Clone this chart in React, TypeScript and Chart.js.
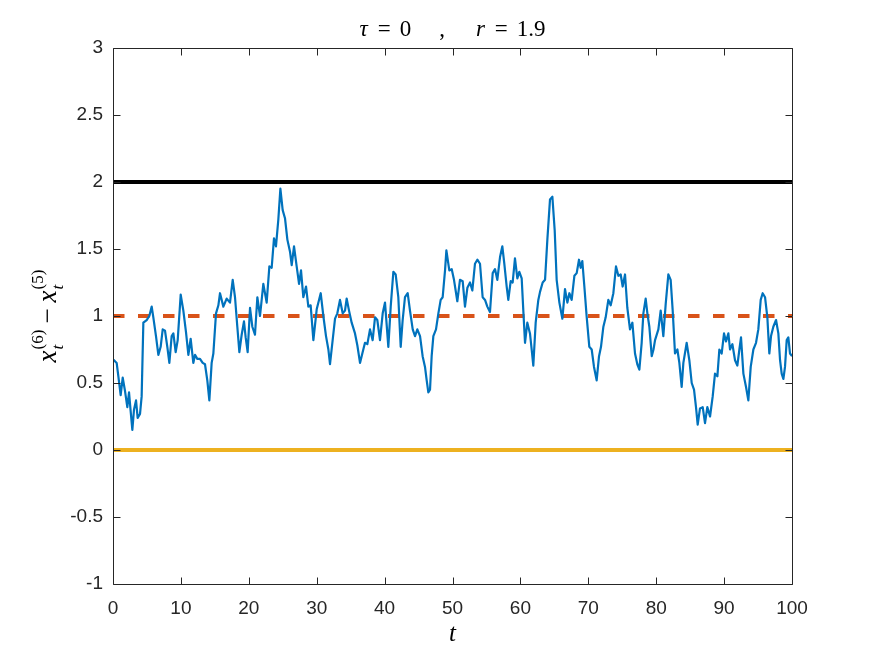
import React, { useEffect, useRef } from 'react';
import { Chart, registerables } from 'chart.js';

Chart.register(...registerables);

// ---- data ----
const timeSteps = [
  0, 0.15, 0.54, 0.79, 1.13, 1.43, 1.77, 2.11, 2.36, 2.6, 2.85, 3.09, 3.39, 3.63, 3.98, 4.22, 4.47, 4.96,
  5.35, 5.7, 5.94, 6.33, 6.68, 7.02, 7.32, 7.66, 8.0, 8.3, 8.64, 8.89, 9.23, 9.53, 9.97, 10.36, 10.75,
  11.1, 11.44, 11.83, 12.08, 12.42, 12.81, 13.21, 13.55, 13.89, 14.19, 14.53, 14.78, 15.17, 15.52, 15.76,
  16.25, 16.74, 17.23, 17.63, 17.97, 18.31, 18.61, 18.95, 19.29, 19.54, 19.83, 20.18, 20.52, 20.91, 21.26,
  21.65, 22.14, 22.63, 23.03, 23.37, 23.71, 24.0, 24.35, 24.65, 24.99, 25.33, 25.68, 26.07, 26.32, 26.66,
  27.05, 27.4, 27.69, 28.03, 28.43, 28.77, 29.11, 29.51, 30.0, 30.59, 30.98, 31.37, 31.72, 31.96, 32.35,
  32.7, 33.04, 33.43, 33.83, 34.17, 34.41, 34.76, 35.15, 35.64, 35.99, 36.38, 36.72, 37.11, 37.46, 37.85,
  38.24, 38.59, 38.93, 39.32, 39.72, 40.06, 40.55, 40.9, 41.29, 41.63, 42.02, 42.37, 42.66, 43.0, 43.4,
  43.74, 44.14, 44.48, 44.82, 45.22, 45.6, 45.95, 46.2, 46.44, 46.69, 46.93, 47.18, 47.57, 47.92, 48.26,
  48.55, 48.9, 49.1, 49.53, 49.88, 50.22, 50.71, 51.1, 51.5, 51.84, 52.19, 52.58, 52.92, 53.31, 53.66,
  54.05, 54.44, 54.79, 55.13, 55.52, 55.92, 56.26, 56.6, 57.0, 57.34, 57.63, 57.98, 58.22, 58.57, 58.86,
  59.2, 59.55, 59.84, 60.19, 60.43, 60.68, 61.02, 61.41, 61.66, 61.9, 62.25, 62.64, 62.89, 63.28, 63.63,
  63.97, 64.36, 64.71, 65.05, 65.34, 65.74, 66.18, 66.57, 66.92, 67.21, 67.55, 67.95, 68.29, 68.63, 68.88,
  69.12, 69.42, 69.76, 70.15, 70.5, 70.84, 71.23, 71.58, 71.87, 72.22, 72.56, 72.95, 73.3, 73.69, 74.08,
  74.43, 74.77, 75.06, 75.41, 75.75, 76.14, 76.49, 76.88, 77.22, 77.52, 77.86, 78.11, 78.45, 78.7, 78.99,
  79.34, 79.6, 79.83, 80.32, 80.66, 81.05, 81.4, 81.79, 82.13, 82.43, 82.77, 83.12, 83.41, 83.75, 84.0,
  84.49, 84.88, 85.23, 85.57, 85.86, 86.11, 86.45, 86.85, 87.19, 87.53, 87.93, 88.32, 88.66, 89.01, 89.3,
  89.64, 89.99, 90.28, 90.63, 90.87, 91.22, 91.61, 91.95, 92.25, 92.49, 92.84, 93.23, 93.57, 93.92, 94.31,
  94.7, 95.04, 95.39, 95.68, 96.03, 96.37, 96.66, 96.91, 97.25, 97.65, 97.99, 98.24, 98.48, 98.73, 98.97,
  99.22, 99.46, 99.71, 100,
];

const gapValues = [
  0.66, 0.67, 0.65, 0.55, 0.41, 0.54, 0.44, 0.32, 0.43, 0.29, 0.15, 0.3, 0.37, 0.24, 0.27, 0.4, 0.95, 0.97,
  1.0, 1.07, 0.99, 0.85, 0.71, 0.77, 0.9, 0.89, 0.77, 0.65, 0.85, 0.87, 0.73, 0.82, 1.16, 1.04, 0.88,
  0.71, 0.83, 0.65, 0.71, 0.68, 0.68, 0.65, 0.64, 0.52, 0.37, 0.65, 0.72, 1.02, 1.08, 1.17,
  1.07, 1.13, 1.1, 1.27, 1.14, 0.92, 0.73, 0.86, 0.96, 0.84, 0.73, 1.06, 0.92, 0.86, 1.14,
  1.0, 1.24, 1.1, 1.37, 1.36, 1.58, 1.52, 1.72, 1.95, 1.79, 1.73, 1.57, 1.48, 1.38, 1.52,
  1.37, 1.24, 1.34, 1.14, 1.22, 1.07, 1.08, 0.82, 1.05, 1.17, 1.0, 0.85, 0.75, 0.64, 0.82,
  0.98, 1.02, 1.12, 1.02, 1.04, 1.13, 1.04, 0.95, 0.87, 0.78, 0.65, 0.72, 0.8, 0.79, 0.9,
  0.82, 0.99, 0.97, 0.82, 1.02, 1.1, 0.77, 1.07, 1.33, 1.31, 1.14, 0.77, 0.97, 1.14, 1.17,
  1.04, 0.9, 0.85, 0.9, 0.85, 0.7, 0.62, 0.52, 0.43, 0.45, 0.7, 0.85, 0.9, 1.02, 1.12,
  1.14, 1.34, 1.49, 1.34, 1.35, 1.27, 1.11, 1.27, 1.26, 1.07, 1.21, 1.25, 1.19, 1.39, 1.42,
  1.39, 1.14, 1.12, 1.07, 1.03, 1.32, 1.35, 1.27, 1.44, 1.52, 1.39, 1.22, 1.12, 1.26, 1.25,
  1.43, 1.28, 1.33, 1.28, 1.04, 0.8, 0.95, 0.87, 0.75, 0.63, 0.95, 1.12, 1.18, 1.25, 1.27,
  1.57, 1.87, 1.89, 1.64, 1.27, 1.1, 0.98, 1.2, 1.1, 1.17, 1.12, 1.3, 1.32, 1.42, 1.36,
  1.41, 1.22, 0.995, 0.77, 0.75, 0.62, 0.52, 0.7, 0.77, 0.92, 0.99, 1.12, 1.08, 1.17, 1.37,
  1.3, 1.31, 1.22, 1.31, 1.06, 0.9, 0.95, 0.72, 0.64, 0.6, 0.8, 1.02, 1.13, 1.02, 0.92,
  0.7, 0.75, 0.82, 0.9, 1.04, 0.85, 1.09, 1.31, 1.27, 1.04, 0.72, 0.75, 0.65, 0.47, 0.65,
  0.8, 0.67, 0.5, 0.45, 0.32, 0.19, 0.31, 0.32, 0.2, 0.32, 0.25, 0.4, 0.57, 0.55, 0.75,
  0.72, 0.87, 0.81, 0.87, 0.75, 0.79, 0.67, 0.63, 0.75, 0.84, 0.57, 0.47, 0.37, 0.62, 0.75,
  0.8, 0.9, 1.12, 1.17, 1.14, 0.99, 0.72, 0.85, 0.92, 0.97, 0.87, 0.67, 0.57, 0.53, 0.62,
  0.82, 0.84, 0.72, 0.7,
];

const upperLevel = 2;
const middleLevel = 1;
const lowerLevel = 0;

const xTickValues = [0, 10, 20, 30, 40, 50, 60, 70, 80, 90, 100];
const yTickValues = [-1, -0.5, 0, 0.5, 1, 1.5, 2, 2.5, 3];

// ---- layout / style ----
const W = 875;
const H = 657;
const AREA_LEFT = 113;
const AREA_RIGHT = 792;
const AREA_TOP = 48;
const AREA_BOTTOM = 584;
const AXIS_COLOR = '#262626';
const TICK_FONT = 'Liberation Sans';
const MATH_FONT = '"Liberation Serif", "DejaVu Serif", serif';

type Piece = { text?: string; italic?: boolean; size?: number; gap?: number };

function runWidth(ctx: CanvasRenderingContext2D, pieces: Piece[], baseSize: number) {
  let w = 0;
  for (const p of pieces) {
    if (p.gap !== undefined) { w += p.gap; continue; }
    ctx.font = `${p.italic ? 'italic ' : ''}${p.size ?? baseSize}px ${MATH_FONT}`;
    w += ctx.measureText(p.text || '').width;
  }
  return w;
}

function drawRun(ctx: CanvasRenderingContext2D, pieces: Piece[], baseSize: number, cx: number, baseline: number) {
  const w = runWidth(ctx, pieces, baseSize);
  let x = cx - w / 2;
  ctx.textBaseline = 'alphabetic';
  ctx.textAlign = 'left';
  for (const p of pieces) {
    if (p.gap !== undefined) { x += p.gap; continue; }
    ctx.font = `${p.italic ? 'italic ' : ''}${p.size ?? baseSize}px ${MATH_FONT}`;
    ctx.fillText(p.text || '', x, baseline);
    x += ctx.measureText(p.text || '').width;
  }
}

// draws x_t^{(k)} style term starting at x; returns advance
function drawScripted(ctx: CanvasRenderingContext2D, x: number, main: string, sup: string, sub: string, mainSize: number, scriptSize: number) {
  ctx.font = `italic ${mainSize}px ${MATH_FONT}`;
  ctx.fillText(main, x, 0);
  const mw = ctx.measureText(main).width;
  ctx.font = `${scriptSize}px ${MATH_FONT}`;
  const supW = ctx.measureText(sup).width;
  ctx.fillText(sup, x + mw + 1, -mainSize * 0.48);
  ctx.font = `italic ${scriptSize}px ${MATH_FONT}`;
  const subW = ctx.measureText(sub).width;
  ctx.fillText(sub, x + mw + 1, mainSize * 0.25);
  return mw + 1 + Math.max(supW, subW);
}

const framePlugin = {
  id: 'matlabFrame',
  afterDatasetsDraw(chart: any) {
    const { ctx, chartArea, scales } = chart;
    const l = Math.round(chartArea.left) + 0.5;
    const r = Math.round(chartArea.right) + 0.5;
    const t = Math.round(chartArea.top) + 0.5;
    const b = Math.round(chartArea.bottom) + 0.5;
    ctx.save();
    ctx.strokeStyle = AXIS_COLOR;
    ctx.lineWidth = 1;
    ctx.beginPath();
    ctx.rect(l, t, r - l, b - t);
    const tl = 7;
    for (const v of xTickValues) {
      const px = Math.round(scales.x.getPixelForValue(v)) + 0.5;
      ctx.moveTo(px, b); ctx.lineTo(px, b - tl);
      ctx.moveTo(px, t); ctx.lineTo(px, t + tl);
    }
    for (const v of yTickValues) {
      const py = Math.round(scales.y.getPixelForValue(v)) + 0.5;
      ctx.moveTo(l, py); ctx.lineTo(l + tl, py);
      ctx.moveTo(r, py); ctx.lineTo(r - tl, py);
    }
    ctx.stroke();
    ctx.restore();
  },
  afterDraw(chart: any) {
    const { ctx, chartArea } = chart;
    const cx = (chartArea.left + chartArea.right) / 2;
    const cy = (chartArea.top + chartArea.bottom) / 2;
    ctx.save();
    ctx.fillStyle = '#000';
    // title
    drawRun(ctx, [
      { text: 'τ', italic: true }, { gap: 10 }, { text: '=' }, { gap: 9 }, { text: '0' },
      { gap: 28 }, { text: ',' }, { gap: 31 },
      { text: 'r', italic: true }, { gap: 10 }, { text: '=' }, { gap: 9 }, { text: '1.9' },
    ], 23, cx, 36);
    // x label
    drawRun(ctx, [{ text: 't', italic: true }], 25, cx, 641);
    // y label (rotated)
    ctx.translate(56, cy);
    ctx.rotate(-Math.PI / 2);
    ctx.textBaseline = 'alphabetic';
    ctx.textAlign = 'left';
    const mainSize = 27;
    const scriptSize = 17;
    ctx.font = `italic ${mainSize}px ${MATH_FONT}`;
    const xw = ctx.measureText('x').width;
    ctx.font = `${scriptSize}px ${MATH_FONT}`;
    const sw = ctx.measureText('(6)').width;
    ctx.font = `${mainSize}px ${MATH_FONT}`;
    const minusW = ctx.measureText('−').width;
    const gap = 6;
    const total = 2 * (xw + 1 + sw) + 2 * gap + minusW;
    let x = -total / 2;
    x += drawScripted(ctx, x, 'x', '(6)', 't', mainSize, scriptSize);
    x += gap;
    ctx.font = `${mainSize}px ${MATH_FONT}`;
    ctx.fillText('−', x, 0);
    x += minusW + gap;
    drawScripted(ctx, x, 'x', '(5)', 't', mainSize, scriptSize);
    ctx.restore();
  },
};

export default function App() {
  const canvasRef = useRef<HTMLCanvasElement | null>(null);

  useEffect(() => {
    const canvas = canvasRef.current;
    if (!canvas) return;
    const mainSeries = timeSteps.map((t, i) => ({ x: t, y: gapValues[i] }));
    const level = (v: number) => [{ x: xTickValues[0], y: v }, { x: xTickValues[xTickValues.length - 1], y: v }];

    const chart = new Chart(canvas, {
      type: 'line',
      data: {
        datasets: [
          {
            label: 'x6 - x5',
            data: mainSeries,
            borderColor: '#0072BD',
            borderWidth: 2.2,
            pointRadius: 0,
            tension: 0,
            borderJoinStyle: 'round',
            order: 0,
          },
          {
            label: 'mid',
            data: level(middleLevel),
            borderColor: '#D95319',
            borderWidth: 4,
            borderDash: [11.5, 13.5],
            borderCapStyle: 'butt',
            pointRadius: 0,
            order: 1,
          },
          {
            label: 'upper',
            data: level(upperLevel),
            borderColor: '#000000',
            borderWidth: 4,
            pointRadius: 0,
            order: 2,
          },
          {
            label: 'lower',
            data: level(lowerLevel),
            borderColor: '#EDB120',
            borderWidth: 4,
            pointRadius: 0,
            order: 3,
          },
        ],
      },
      options: {
        animation: false,
        responsive: false,
        devicePixelRatio: 1,
        layout: { padding: { left: 0, right: W - AREA_RIGHT, top: AREA_TOP, bottom: 0 } },
        plugins: { legend: { display: false }, tooltip: { enabled: false }, title: { display: false } },
        scales: {
          x: {
            type: 'linear',
            min: 0,
            max: 100,
            grid: { display: false, drawTicks: false },
            border: { display: false },
            ticks: {
              font: { family: TICK_FONT, size: 19 },
              color: AXIS_COLOR,
              padding: 13,
              maxRotation: 0,
              autoSkip: false,
              callback: (v: any) => String(v),
            },
            afterBuildTicks: (s: any) => { s.ticks = xTickValues.map((v) => ({ value: v })); },
            afterFit: (s: any) => { s.height = H - AREA_BOTTOM; },
          },
          y: {
            type: 'linear',
            min: -1,
            max: 3,
            grid: { display: false, drawTicks: false },
            border: { display: false },
            ticks: {
              font: { family: TICK_FONT, size: 19 },
              color: AXIS_COLOR,
              padding: 10,
              autoSkip: false,
              callback: (v: any) => String(v),
            },
            afterBuildTicks: (s: any) => { s.ticks = yTickValues.map((v) => ({ value: v })); },
            afterFit: (s: any) => { s.width = AREA_LEFT; },
          },
        },
      },
      plugins: [framePlugin],
    });
    return () => chart.destroy();
  }, []);

  return (
    <div style={{ position: 'fixed', left: 0, top: 0, width: W, height: H, background: '#fff' }}>
      <canvas ref={canvasRef} width={W} height={H} style={{ display: 'block' }} />
    </div>
  );
}
